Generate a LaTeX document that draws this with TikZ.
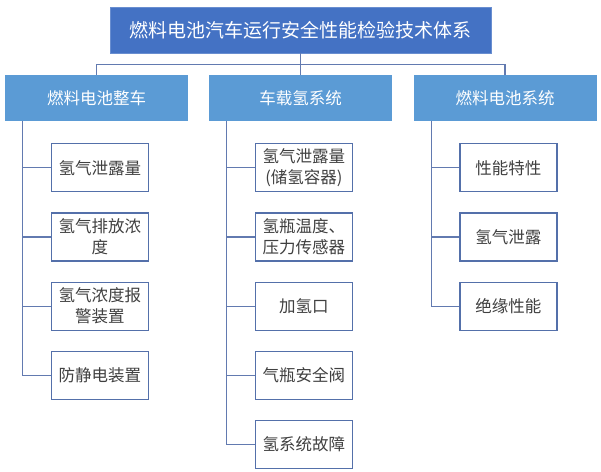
\documentclass[tikz,border=0pt]{standalone}
\usepackage{fontspec}
\setmainfont{Noto Sans CJK SC}
\usetikzlibrary{positioning}
\definecolor{rootBlue}{RGB}{68,114,196}
\definecolor{groupBlue}{RGB}{91,155,213}
\definecolor{leafEdge}{RGB}{84,112,170}
\definecolor{lineBlue}{RGB}{98,122,176}
\definecolor{textGray}{RGB}{64,64,64}
\begin{document}
\begin{tikzpicture}[x=1pt, y=-1pt, node distance=20pt,
root/.style={rectangle, draw=rootBlue!80!white, fill=rootBlue, text=white,
minimum width=381pt, minimum height=46pt, font=\fontsize{19}{23}\selectfont},
group/.style={rectangle, fill=groupBlue, text=white,
minimum width=183pt, minimum height=46pt, font=\fontsize{16.5}{20}\selectfont},
leaf/.style={rectangle, draw=leafEdge, line width=1.2pt, fill=white, text=textGray,
minimum width=97pt, minimum height=48pt, inner sep=2pt, align=center,
font=\fontsize{16.5}{21}\selectfont},
link/.style={draw=lineBlue, line width=1.2pt}]
\useasboundingbox (0,0) rectangle (601,471);
\node[root] (root) at (300.5,30) {燃料电池汽车运行安全性能检验技术体系};
\node[group] (car)  at (96.5,98)  {燃料电池整车};
\node[group] (tank) at (300.5,98) {车载氢系统};
\node[group] (cell) at (505,98)   {燃料电池系统};
\node[leaf, anchor=north west] (c1) at ([xshift=46pt, yshift=-22pt]car.south west) {氢气泄露量};
\node[leaf, below=of c1] (c2) {氢气排放浓\\度};
\node[leaf, below=of c2] (c3) {氢气浓度报\\警装置};
\node[leaf, below=of c3] (c4) {防静电装置};
\node[leaf, anchor=north west] (t1) at ([xshift=46pt, yshift=-22pt]tank.south west) {氢气泄露量\\(储氢容器)};
\node[leaf, below=of t1] (t2) {氢瓶温度、\\压力传感器};
\node[leaf, below=of t2] (t3) {加氢口};
\node[leaf, below=of t3] (t4) {气瓶安全阀};
\node[leaf, below=of t4] (t5) {氢系统故障};
\node[leaf, anchor=north west] (f1) at ([xshift=46pt, yshift=-22pt]cell.south west) {性能特性};
\node[leaf, below=of f1] (f2) {氢气泄露};
\node[leaf, below=of f2] (f3) {绝缘性能};
\coordinate (bus) at ([yshift=-11pt]root.south);
\draw[link] (root.south) -- (bus);
\draw[link] (car.north) |- (bus) -| (cell.north);
\draw[link] (bus) -- (tank.north);
\coordinate (carline)  at ([xshift=18pt]car.south west);
\coordinate (tankline) at ([xshift=18pt]tank.south west);
\coordinate (cellline) at ([xshift=18pt]cell.south west);
\foreach \n in {c1,c2,c3,c4} \draw[link] (carline) |- (\n.west);
\foreach \n in {t1,t2,t3,t4,t5} \draw[link] (tankline) |- (\n.west);
\foreach \n in {f1,f2,f3} \draw[link] (cellline) |- (\n.west);
\end{tikzpicture}
\end{document}
